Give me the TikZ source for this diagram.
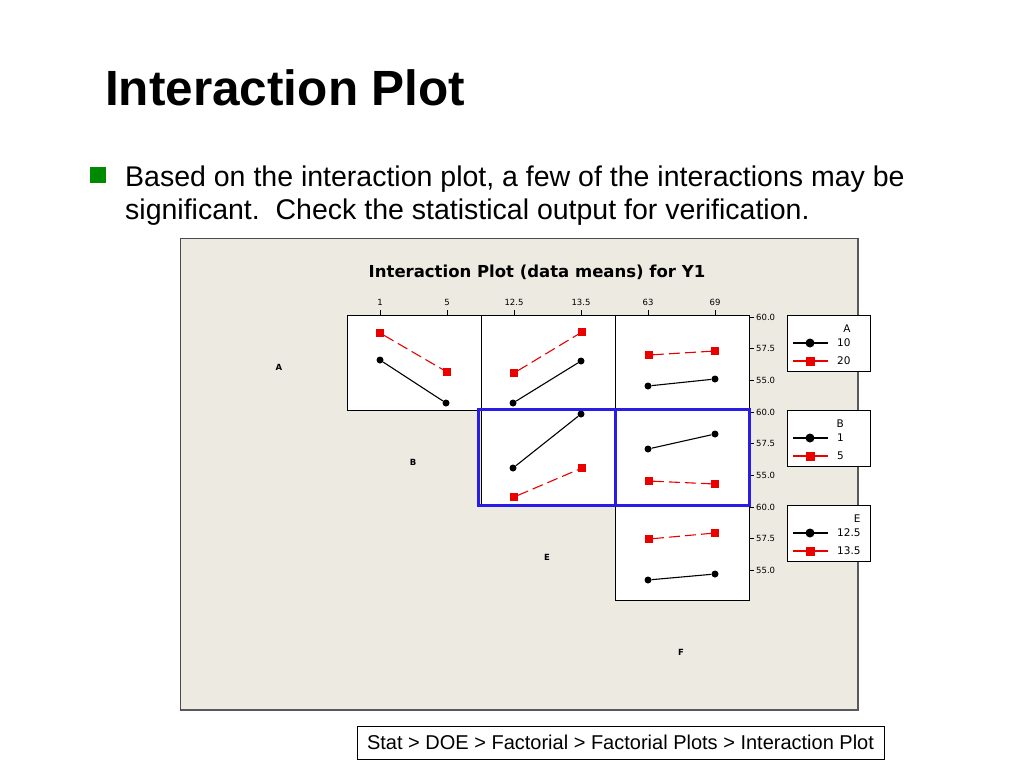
\documentclass[tikz,border=0pt]{standalone}
\usepackage{fontspec}
\setmainfont{Liberation Sans}
\newfontfamily\plotfont{DejaVu Sans}
\usetikzlibrary{positioning}
\definecolor{panelbg}{HTML}{EDEAE1}
\definecolor{bulletgreen}{HTML}{008A00}
\definecolor{hiblue}{RGB}{40,28,230}
\definecolor{ptred}{RGB}{235,0,0}
\tikzset{
    slidetitle/.style={inner sep=0pt,font=\bfseries\fontsize{49.5}{58}\selectfont},
    bodytext/.style={inner sep=0pt,font=\fontsize{28.5}{33}\selectfont},
    bullet/.style={rectangle,fill=bulletgreen,inner sep=0pt,minimum size=16pt},
    framebox/.style={draw=black!70,fill=panelbg,line width=1pt},
    frameshade/.style={draw=black!65,line width=2.5pt},
    plottitle/.style={inner sep=0pt,font=\plotfont\bfseries\fontsize{16.5}{20}\selectfont},
    factor/.style={inner sep=0pt,font=\plotfont\bfseries\fontsize{8.5}{10}\selectfont},
    panel/.style={draw=black,fill=white,line width=1pt,minimum width=134pt,minimum height=95pt},
    axis/.style={draw=black,line width=0.8pt},
    ticklbl/.style={inner sep=0pt,font=\plotfont\fontsize{8.5}{10}\selectfont},
    blackpt/.style={circle,fill=black,inner sep=0pt,minimum size=7pt},
    redpt/.style={rectangle,fill=ptred,inner sep=0pt,minimum size=7.5pt},
    blackln/.style={-,draw=black,line width=1.1pt},
    redln/.style={-,draw=ptred,line width=1.1pt,dash pattern=on 11pt off 5pt},
    hilite/.style={draw=hiblue,line width=3.5pt},
    legbox/.style={draw=black,fill=white,line width=1pt,minimum width=83pt,minimum height=56pt},
    legval/.style={inner sep=0pt,anchor=west,font=\plotfont\fontsize{10.5}{12}\selectfont},
    pathbox/.style={draw=black,line width=1pt,minimum width=527pt,minimum height=33pt,font=\fontsize{20}{24}\selectfont}
}

\begin{document}
\begin{tikzpicture}[x=1pt,y=-1pt]
\useasboundingbox (0,0) rectangle (1024,768);

% slide heading and bullet
\node[slidetitle,anchor=base west] (title) at (105,105) {Interaction Plot};
\node[bullet] (bul) at (97.5,175) {};
\node[bodytext,anchor=base west] (line1) at (125,186) {Based on the interaction plot, a few of the interactions may be};
\node[bodytext,anchor=base west] (line2) at (125,219) {significant.\ \ Check the statistical output for verification.};

% graph window
\draw[framebox] (180,238) rectangle (858,710);
\draw[frameshade] (858,239) -- (858,710) -- (181,710);
\node[plottitle] (ptitle) at (537,272) {Interaction Plot (data means) for Y1};

% factor names on the diagonal
\foreach \f [count=\i from 0] in {A,B,E,F}
    \node[factor] (fac\f) at ({279+134*\i},{367+95*\i}) {\f};

% panels
\foreach \r/\c in {0/1,0/2,0/3,1/2,1/3,2/3}
    \node[panel] (p\r\c) at ({280+134*\c},{362.5+95*\r}) {};

% top scale
\foreach \c/\lo/\hi in {1/1/5,2/12.5/13.5,3/63/69} {
    \draw[axis] ({246+134*\c},310) -- ({246+134*\c},315);
    \draw[axis] ({313+134*\c},310) -- ({313+134*\c},315);
    \node[ticklbl] (top\c a) at ({246+134*\c},302) {\lo};
    \node[ticklbl] (top\c b) at ({313+134*\c},302) {\hi};
}

% right scale
\foreach \r in {0,1,2}
    \foreach \v [count=\k from 0] in {60.0,57.5,55.0} {
        \draw[axis] (749,{317+95*\r+31.5*\k}) -- (754,{317+95*\r+31.5*\k});
        \node[ticklbl,anchor=west] (rs\r\k) at (756,{317+95*\r+31.5*\k}) {\v};
    }

% means, low level
\foreach \n/\xa/\ya/\xb/\yb in {ab/380/360/446/403,ae/513/403/581/361,af/648/386/715/379,
                                be/513/468/581/414,bf/648/449/715/434,ef/648/580/715/574} {
    \node[blackpt] (\n k1) at (\xa,\ya) {};
    \node[blackpt] (\n k2) at (\xb,\yb) {};
    \draw[blackln] (\n k1) -- (\n k2);
}

% means, high level
\foreach \n/\xa/\ya/\xb/\yb in {ab/380/333/447/372,ae/514/373/582/332,af/649/355/715/351,
                                be/514/497/582/468,bf/649/481/715/484,ef/649/539/715/533} {
    \node[redpt] (\n r1) at (\xa,\ya) {};
    \node[redpt] (\n r2) at (\xb,\yb) {};
    \draw[redln] (\n r1) -- (\n r2);
}

% highlighted row
\draw[hilite] ([xshift=-2pt]p12.north west) rectangle (p13.south east)
              (p12.north east) -- (p12.south east);

% legends
\foreach \f/\y/\va/\vb in {A/315/10/20,B/410/1/5,E/505/12.5/13.5} {
    \node[legbox,anchor=north west] (leg\f) at (787,\y) {};
    \node[legval] (leg\f1) at (837,\y+28) {\va};
    \node[legval] (leg\f2) at (837,\y+46) {\vb};
    \node[legval,above=6pt of leg\f1.north east,anchor=south east] (leg\f h) {\f};
    \coordinate (leg\f1l) at (793,\y+28);
    \coordinate (leg\f1r) at (828,\y+28);
    \coordinate (leg\f2l) at (793,\y+46);
    \coordinate (leg\f2r) at (828,\y+46);
    \draw[blackln] (leg\f1l) -- (leg\f1r);
    \draw[draw=ptred,line width=1.1pt] (leg\f2l) -- (leg\f2r);
    \node[blackpt,minimum size=9pt] (leg\f1m) at (810,\y+28) {};
    \node[redpt,minimum size=9pt] (leg\f2m) at (810,\y+46) {};
}

% menu path
\node[pathbox] (menu) at (620.5,742.5) {Stat > DOE > Factorial > Factorial Plots > Interaction Plot};

\end{tikzpicture}
\end{document}
